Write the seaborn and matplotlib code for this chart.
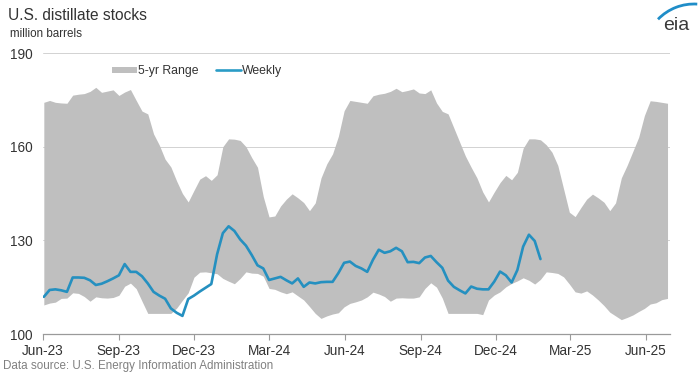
import numpy as np
import pandas as pd
import matplotlib
matplotlib.use("Agg")
import matplotlib.pyplot as plt
import seaborn as sns
from matplotlib.patches import Patch, Arc
from matplotlib.lines import Line2D

# ---- data (million barrels), weekly from 2023-06-02 ----
range_upper = [174.2, 174.8, 174.2, 174.0, 173.9, 176.5, 176.8, 177.0, 177.7, 179.0,
               177.4, 177.8, 178.2, 176.4, 177.5, 178.3, 174.8, 171.4, 170.5, 164.1,
               160.5, 156.0, 153.5, 149.0, 145.0, 142.3, 146.0, 149.6, 150.7, 149.2,
               151.0, 160.0, 162.5, 162.4, 162.0, 160.0, 156.5, 153.4, 144.0, 137.5,
               137.8, 141.0, 143.2, 144.9, 143.6, 142.1, 139.5, 142.0, 150.0, 154.5,
               157.7, 163.3, 171.5, 174.8, 174.5, 174.2, 173.9, 176.3, 176.8, 177.1,
               177.7, 178.7, 177.6, 178.0, 178.5, 177.2, 177.0, 178.2, 174.0, 171.3,
               170.5, 166.0, 161.5, 157.0, 153.4, 150.0, 145.5, 142.3, 145.5, 148.5,
               150.8, 149.4, 151.8, 159.5, 162.5, 162.5, 162.2, 160.6, 158.2, 154.0,
               146.5, 139.0, 137.6, 140.5, 143.2, 144.8, 143.6, 142.2, 139.5, 142.0,
               150.0, 154.0, 158.5, 163.0, 170.0, 174.7, 174.5, 174.2, 173.9]

range_lower = [109.3, 109.9, 110.2, 111.4, 111.5, 113.2, 113.0, 112.0, 110.5, 111.9,
               111.6, 111.5, 111.7, 112.4, 115.3, 116.3, 114.5, 110.5, 106.6, 106.6,
               106.6, 106.6, 106.6, 108.3, 110.8, 113.2, 118.2, 119.8, 119.9, 119.6,
               119.3, 117.8, 116.9, 116.1, 117.8, 119.9, 119.5, 119.4, 118.5, 114.6,
               114.3, 113.5, 112.9, 113.5, 112.2, 110.9, 108.8, 106.6, 105.0, 105.8,
               106.4, 106.8, 108.7, 109.8, 110.3, 110.9, 111.9, 113.4, 112.8, 112.0,
               110.5, 111.5, 111.6, 111.5, 111.5, 111.9, 114.6, 116.4, 115.0, 111.5,
               106.6, 106.6, 106.6, 106.6, 106.6, 106.6, 106.2, 110.9, 112.5, 113.5,
               115.1, 116.2, 117.0, 118.0, 117.2, 116.0, 117.5, 119.9, 119.7, 119.4,
               118.3, 116.0, 113.5, 113.1, 113.8, 112.5, 110.9, 109.1, 107.0, 105.8,
               104.6, 105.3, 106.1, 107.2, 108.2, 109.6, 110.0, 111.0, 111.4]

weekly_stocks = [111.9, 114.1, 114.3, 114.0, 113.5, 118.1, 118.1, 118.0, 117.2, 115.7,
                 116.1, 116.9, 117.8, 118.8, 122.4, 119.9, 119.9, 118.5, 116.2, 113.5,
                 112.3, 111.3, 108.2, 106.8, 105.8, 111.2, 112.3, 113.6, 114.8, 116.0,
                 125.5, 132.3, 134.5, 133.0, 130.3, 128.3, 125.3, 122.0, 121.0, 117.3,
                 117.8, 118.3, 117.2, 116.2, 117.8, 115.1, 116.5, 116.2, 116.6, 116.7,
                 116.7, 119.5, 122.8, 123.2, 121.8, 121.0, 119.9, 123.8, 127.0, 126.0,
                 126.5, 127.6, 126.5, 123.0, 123.1, 122.7, 124.5, 125.0, 123.0, 121.2,
                 117.1, 115.1, 114.0, 113.0, 115.2, 114.5, 114.3, 114.3, 116.8, 120.0,
                 118.8, 116.5, 120.5, 128.0, 131.8, 129.8, 124.0]

tick_dates = ["2023-06-01", "2023-09-01", "2023-12-01", "2024-03-01", "2024-06-01",
              "2024-09-01", "2024-12-01", "2025-03-01", "2025-06-01"]
tick_labels = ["Jun-23", "Sep-23", "Dec-23", "Mar-24", "Jun-24",
               "Sep-24", "Dec-24", "Mar-25", "Jun-25"]
y_ticks = [100, 130, 160, 190]

# ---- styling ----
sns.set_theme(style="white")
plt.rcParams["font.family"] = ["Liberation Sans", "DejaVu Sans"]

RANGE_COLOR = "#bfbfbf"
LINE_COLOR = "#2590c0"

weeks = pd.date_range("2023-06-02", periods=len(range_upper), freq="7D")
df_range = pd.DataFrame({"date": weeks, "upper": range_upper, "lower": range_lower})
df_weekly = pd.DataFrame({"date": weeks[:len(weekly_stocks)], "stocks": weekly_stocks})

fig = plt.figure(figsize=(7, 3.74), dpi=100)
ax = fig.add_axes([43 / 700, 1 - 334 / 374, 627 / 700, 281 / 374])

ax.set_ylim(100, 190)
ax.set_yticks(y_ticks)
ax.grid(axis="y", color="#d2d2d2", lw=0.7)
ax.grid(axis="x", visible=False)
ax.set_axisbelow(True)

ax.fill_between(df_range["date"], df_range["lower"], df_range["upper"],
                color=RANGE_COLOR, lw=0, zorder=2)
sns.lineplot(data=df_weekly, x="date", y="stocks", ax=ax, color=LINE_COLOR,
             lw=1.9, zorder=3)

ax.set_xlim(pd.Timestamp("2023-06-01"), pd.Timestamp("2025-06-30"))
ax.set_xticks(pd.to_datetime(tick_dates))
ax.set_xticklabels(tick_labels)
ax.set_xlabel("")
ax.set_ylabel("")

for s in ["left", "right", "top"]:
    ax.spines[s].set_visible(False)
ax.spines["bottom"].set_color("#9a9a9a")
ax.spines["bottom"].set_linewidth(0.9)
ax.tick_params(axis="x", length=4, width=0.8, color="#9a9a9a", labelsize=9.8,
               labelcolor="#333333", pad=3, bottom=True)
ax.tick_params(axis="y", length=0, labelsize=9.8, labelcolor="#333333", pad=0)
for lbl in ax.get_yticklabels():
    lbl.set_horizontalalignment("left")
    lbl.set_x(-33 / 627)

handles = [Patch(facecolor=RANGE_COLOR, edgecolor="none", label="5-yr Range"),
           Line2D([0], [0], color="#2a9cc6", lw=1.9, label="Weekly")]
ax.legend(handles=handles, loc="upper left", bbox_to_anchor=(0.097, 0.987), ncol=2,
          frameon=False, fontsize=8.8, handlelength=2.0, handleheight=0.45,
          handletextpad=0.1, columnspacing=1.45, labelcolor="#333333",
          borderaxespad=0.3)

fig.text(8 / 700, 1 - 16 / 374, "U.S. distillate stocks", fontsize=11.2,
         color="#333333", va="center", ha="left")
fig.text(10 / 700, 1 - 34 / 374, "million barrels", fontsize=8.4,
         color="#333333", va="center", ha="left")
fig.text(3 / 700, 1 - 366 / 374, "Data source: U.S. Energy Information Administration",
         fontsize=8.4, color="#808080", va="center", ha="left")

# eia logo
fig.text(689 / 700, 1 - 25 / 374, "eia", fontsize=14, color="#3a3a3a",
         ha="right", va="center")
fig.patches.append(Arc((694 / 700, 1 - 54 / 374), 100 / 700, 100 / 374, theta1=88,
                       theta2=119, color="#1f8dc8", lw=2.0,
                       transform=fig.transFigure))

fig.savefig("out.png", dpi=100)
